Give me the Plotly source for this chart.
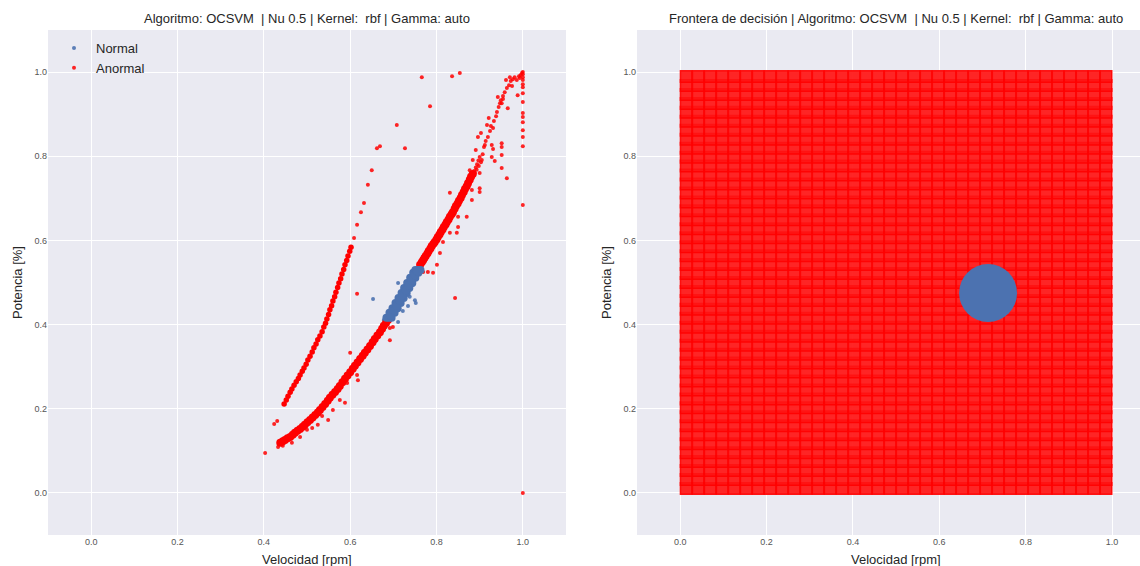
import numpy as np
import plotly.graph_objects as go

# ---------------- Left panel data ----------------
# Dense lower branch (anomalous, red), lower part
red_band_low_x = [0.438, 0.444, 0.449, 0.455, 0.461, 0.467, 0.472, 0.478, 0.484, 0.490, 0.495, 0.501,
                  0.507, 0.513, 0.519, 0.525, 0.530, 0.536, 0.542, 0.548, 0.553, 0.559, 0.565, 0.571,
                  0.576, 0.582, 0.588, 0.594, 0.600, 0.606, 0.611, 0.617, 0.623, 0.629, 0.634, 0.640,
                  0.646, 0.652, 0.657, 0.663, 0.669, 0.674, 0.678, 0.683, 0.6875]
red_band_low_y = [0.119, 0.123, 0.126, 0.130, 0.133, 0.138, 0.143, 0.148, 0.152, 0.157, 0.162, 0.168,
                  0.173, 0.179, 0.185, 0.191, 0.197, 0.204, 0.211, 0.219, 0.226, 0.233, 0.240, 0.247,
                  0.254, 0.263, 0.271, 0.279, 0.287, 0.295, 0.302, 0.310, 0.318, 0.326, 0.333, 0.341,
                  0.349, 0.358, 0.366, 0.374, 0.382, 0.390, 0.397, 0.404, 0.411]
# Dense lower branch, upper part
red_band_up_x = [0.762, 0.766, 0.769, 0.772, 0.775, 0.779, 0.782, 0.786, 0.789, 0.793, 0.796, 0.800,
                 0.803, 0.807, 0.810, 0.814, 0.817, 0.821, 0.824, 0.828, 0.831, 0.835, 0.838, 0.842,
                 0.845, 0.849, 0.852, 0.856, 0.859, 0.863, 0.866, 0.870, 0.873, 0.877, 0.880, 0.884]
red_band_up_y = [0.542, 0.548, 0.553, 0.558, 0.563, 0.569, 0.575, 0.581, 0.587, 0.592, 0.596, 0.602,
                 0.608, 0.614, 0.620, 0.626, 0.632, 0.638, 0.644, 0.650, 0.656, 0.662, 0.667, 0.675,
                 0.682, 0.688, 0.694, 0.701, 0.708, 0.715, 0.722, 0.729, 0.736, 0.744, 0.751, 0.758]
# Left (upper) branch
red_branch2_x = [0.447, 0.452, 0.456, 0.461, 0.465, 0.470, 0.475, 0.480, 0.484, 0.489, 0.493, 0.498,
                 0.502, 0.507, 0.512, 0.516, 0.521, 0.525, 0.530, 0.535, 0.539, 0.543, 0.546, 0.550,
                 0.553, 0.557, 0.560, 0.564, 0.567, 0.571, 0.574, 0.578, 0.581, 0.585, 0.588, 0.592,
                 0.595, 0.599, 0.602]
red_branch2_y = [0.211, 0.221, 0.230, 0.239, 0.247, 0.256, 0.264, 0.272, 0.280, 0.289, 0.297, 0.306,
                 0.316, 0.325, 0.335, 0.345, 0.354, 0.364, 0.373, 0.383, 0.394, 0.403, 0.413, 0.424,
                 0.435, 0.445, 0.456, 0.466, 0.477, 0.488, 0.499, 0.509, 0.520, 0.531, 0.542, 0.552,
                 0.563, 0.574, 0.584]
# Scattered anomalous points
red_pts_x = [0.403, 0.431, 0.424, 0.433, 0.444, 0.465, 0.484, 0.500, 0.512, 0.525, 0.549, 0.535, 0.560,
             0.588, 0.576, 0.593, 0.616, 0.618, 0.600, 0.692, 0.692, 0.699, 0.616, 0.769, 0.780, 0.792,
             0.801, 0.808, 0.815, 0.831, 0.847, 0.850, 0.850, 0.870, 0.831, 0.882, 0.882, 0.900, 0.900,
             0.900, 0.905, 0.912, 0.928, 0.928, 0.931, 0.935, 0.931, 0.951, 0.951, 0.951, 0.951, 0.963,
             0.954, 0.951, 0.965, 0.988, 1.000, 1.000, 1.000, 1.000, 1.000, 1.000, 1.000, 1.000, 1.000,
             1.000, 0.843, 0.836, 0.854, 0.766, 0.785, 0.708, 0.727, 0.662, 0.650, 0.641, 0.632, 0.625,
             0.616, 0.609, 0.669,
             0.910, 0.914, 0.919, 0.924, 0.926, 0.933, 0.938, 0.940, 0.944, 0.947, 0.954, 0.958, 0.963,
             0.968, 0.972, 0.977, 0.981, 0.986, 0.991, 0.993, 0.995, 0.998, 1.000, 1.000, 1.000, 1.000,
             1.000, 1.000, 0.970, 0.975, 0.961, 0.942, 0.949, 0.921, 0.917, 0.903, 0.896, 0.891, 0.884,
             0.877, 0.887, 0.891, 0.894, 0.897, 0.900, 0.889, 0.893, 0.898, 0.903, 0.907]
red_pts_y = [0.095, 0.171, 0.164, 0.109, 0.112, 0.119, 0.133, 0.150, 0.154, 0.162, 0.173, 0.183, 0.197,
             0.214, 0.221, 0.261, 0.280, 0.268, 0.333, 0.363, 0.392, 0.394, 0.473, 0.525, 0.525, 0.523,
             0.542, 0.570, 0.596, 0.618, 0.618, 0.632, 0.656, 0.656, 0.713, 0.696, 0.720, 0.715, 0.724,
             0.760, 0.791, 0.827, 0.798, 0.827, 0.817, 0.789, 0.867, 0.831, 0.822, 0.803, 0.772, 0.748,
             0.936, 0.926, 0.914, 0.945, 0.950, 0.929, 0.903, 0.893, 0.881, 0.862, 0.846, 0.824, 0.684,
             0.000, 0.463, 0.990, 0.998, 0.988, 0.919, 0.874, 0.819, 0.819, 0.767, 0.732, 0.689, 0.667,
             0.637, 0.606, 0.824,
             0.822, 0.836, 0.846, 0.860, 0.872, 0.884, 0.895, 0.905, 0.917, 0.926, 0.943, 0.952, 0.962,
             0.969, 0.979, 0.983, 0.988, 0.981, 0.990, 0.986, 0.993, 0.998, 0.995, 0.988, 0.981, 0.971,
             0.964, 1.000, 0.988, 0.967, 0.981, 0.941, 0.933, 0.891, 0.874, 0.855, 0.846, 0.815, 0.791,
             0.767, 0.765, 0.773, 0.781, 0.790, 0.798, 0.760, 0.768, 0.777, 0.786, 0.805]

# Dense normal band (blue)
blue_band_x = [0.690, 0.697, 0.704, 0.711, 0.718, 0.725, 0.731, 0.738, 0.745, 0.752, 0.757,
               0.684, 0.691, 0.698, 0.705, 0.712, 0.719, 0.725, 0.732, 0.739, 0.746, 0.751,
               0.696, 0.703, 0.710, 0.717, 0.724, 0.731, 0.737, 0.744, 0.751, 0.758, 0.763,
               0.6935, 0.7005, 0.7075, 0.7145, 0.7215, 0.728, 0.7345, 0.7415, 0.7485, 0.7545]
blue_band_y = [0.416, 0.428, 0.439, 0.451, 0.463, 0.475, 0.487, 0.499, 0.511, 0.523, 0.530,
               0.416, 0.428, 0.439, 0.451, 0.463, 0.475, 0.487, 0.499, 0.511, 0.523, 0.530,
               0.416, 0.428, 0.439, 0.451, 0.463, 0.475, 0.487, 0.499, 0.511, 0.523, 0.530,
               0.422, 0.4335, 0.445, 0.457, 0.469, 0.481, 0.493, 0.505, 0.517, 0.5265]
blue_pts_x = [0.653, 0.711, 0.745, 0.750, 0.752, 0.711, 0.722, 0.738, 0.734, 0.678]
blue_pts_y = [0.461, 0.499, 0.494, 0.458, 0.451, 0.406, 0.432, 0.466, 0.444, 0.411]

# ---------------- Right panel data ----------------
grid_x = [0.0139, 0.0417, 0.0694, 0.0972, 0.1250, 0.1528, 0.1806, 0.2083, 0.2361, 0.2639, 0.2917, 0.3194,
          0.3472, 0.3750, 0.4028, 0.4306, 0.4583, 0.4861, 0.5139, 0.5417, 0.5694, 0.5972, 0.6250, 0.6528,
          0.6806, 0.7083, 0.7361, 0.7639, 0.7917, 0.8194, 0.8472, 0.8750, 0.9028, 0.9306, 0.9583, 0.9861]
grid_y = [0.0106, 0.0319, 0.0532, 0.0745, 0.0957, 0.1170, 0.1383, 0.1596, 0.1809, 0.2021, 0.2234, 0.2447,
          0.2660, 0.2872, 0.3085, 0.3298, 0.3511, 0.3723, 0.3936, 0.4149, 0.4362, 0.4574, 0.4787, 0.5000,
          0.5213, 0.5426, 0.5638, 0.5851, 0.6064, 0.6277, 0.6489, 0.6702, 0.6915, 0.7128, 0.7340, 0.7553,
          0.7766, 0.7979, 0.8191, 0.8404, 0.8617, 0.8830, 0.9043, 0.9255, 0.9468, 0.9681, 0.9894]
normal_region_x = [0.713]
normal_region_y = [0.475]

tick_vals = [0.0, 0.2, 0.4, 0.6, 0.8, 1.0]
tick_text = ["0.0", "0.2", "0.4", "0.6", "0.8", "1.0"]

title_left = "Algoritmo: OCSVM\u00a0 | Nu 0.5 | Kernel:\u00a0 rbf | Gamma: auto"
title_right = "Frontera de decisión | Algoritmo: OCSVM\u00a0 | Nu 0.5 | Kernel:\u00a0 rbf | Gamma: auto"

RED = "#ff0000"
BLUE = "#4c72b0"
FONT = "Liberation Sans, Arial, sans-serif"

fig = go.Figure()

# Left panel
fig.add_trace(go.Scatter(x=blue_pts_x, y=blue_pts_y, mode="markers", name="Normal",
                         marker=dict(color=BLUE, size=4, opacity=0.9), xaxis="x", yaxis="y"))
fig.add_trace(go.Scatter(x=red_pts_x, y=red_pts_y, mode="markers", name="Anormal",
                         marker=dict(color=RED, size=4, opacity=0.85), xaxis="x", yaxis="y"))
fig.add_trace(go.Scatter(x=red_band_low_x + red_band_up_x, y=red_band_low_y + red_band_up_y,
                         mode="markers", showlegend=False,
                         marker=dict(color=RED, size=8), xaxis="x", yaxis="y"))
fig.add_trace(go.Scatter(x=red_branch2_x, y=red_branch2_y, mode="markers", showlegend=False,
                         marker=dict(color=RED, size=5.5), xaxis="x", yaxis="y"))
fig.add_trace(go.Scatter(x=blue_band_x, y=blue_band_y, mode="markers", showlegend=False,
                         marker=dict(color=BLUE, size=8), xaxis="x", yaxis="y"))

# Right panel
gx, gy = np.meshgrid(grid_x, grid_y)
fig.add_trace(go.Scatter(x=gx.ravel(), y=gy.ravel(), mode="markers", showlegend=False,
                         marker=dict(color="rgba(255,20,20,0.92)", size=11.5, symbol="square",
                                     line=dict(width=1.5, color="rgba(255,0,0,0.9)")),
                         xaxis="x2", yaxis="y2"))
fig.add_trace(go.Scatter(x=normal_region_x, y=normal_region_y, mode="markers", showlegend=False,
                         marker=dict(color=BLUE, size=58, line=dict(width=0)),
                         xaxis="x2", yaxis="y2"))

axis_common = dict(showgrid=True, gridcolor="white", gridwidth=1, zeroline=False, showline=False,
                   ticks="", tickvals=tick_vals, ticktext=tick_text,
                   tickfont=dict(size=9, color="#555555", family=FONT))

W, H = 1140, 566
ML, MR, MT, MB = 48, 0, 30, 31
PW = W - ML - MR
PH = H - MT - MB

def px(x):
    return (x - ML) / PW

def py(y):
    return (H - MB - y) / PH

fig.update_layout(
    width=W, height=H,
    margin=dict(l=ML, r=MR, t=MT, b=MB),
    paper_bgcolor="white",
    plot_bgcolor="#eaeaf2",
    font=dict(family=FONT, color="#262626"),
    xaxis=dict(domain=[0, px(566)], range=[-0.1, 1.1], anchor="y", **axis_common),
    yaxis=dict(domain=[0, 1], range=[-0.1, 1.1], anchor="x", **axis_common),
    xaxis2=dict(domain=[px(637), 1], range=[-0.1, 1.0648], anchor="y2", **axis_common),
    yaxis2=dict(domain=[0, 1], range=[-0.1, 1.1], anchor="x2", **axis_common),
    legend=dict(x=px(52), y=py(33), xanchor="left", yanchor="top",
                bgcolor="rgba(0,0,0,0)", font=dict(size=13, color="#262626"),
                itemsizing="trace", tracegroupgap=0, itemwidth=34),
    showlegend=True,
)

ann = [
    dict(text=title_left, x=px(307), y=py(19), font=dict(size=13)),
    dict(text=title_right, x=px(896), y=py(19), font=dict(size=13)),
    dict(text="Velocidad [rpm]", x=px(307), y=py(559), font=dict(size=13)),
    dict(text="Velocidad [rpm]", x=px(896), y=py(559), font=dict(size=13)),
    dict(text="Potencia [%]", x=px(17), y=py(283), font=dict(size=13), textangle=-90),
    dict(text="Potencia [%]", x=px(606), y=py(283), font=dict(size=13), textangle=-90),
]
for a in ann:
    fig.add_annotation(xref="paper", yref="paper", showarrow=False, xanchor="center", yanchor="middle",
                       **a)

fig.write_html("out.html")
